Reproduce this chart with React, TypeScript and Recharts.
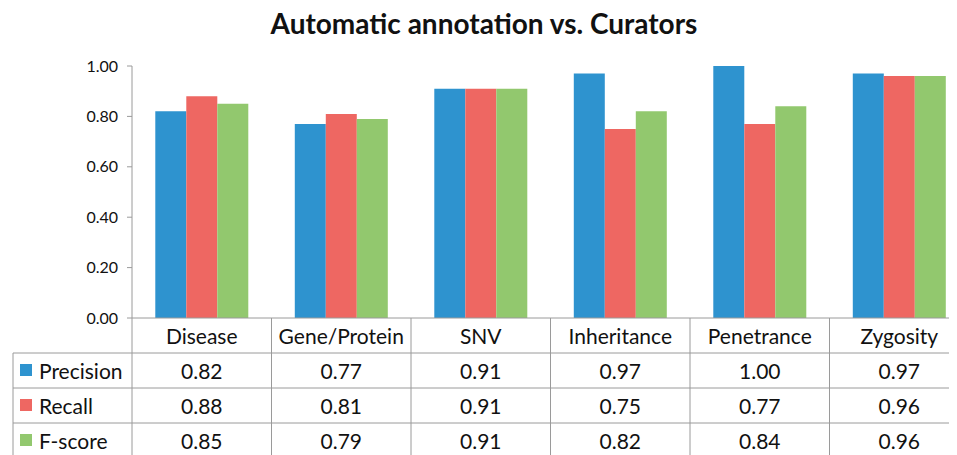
import React from 'react'
import { BarChart, Bar, XAxis, YAxis } from 'recharts'

const categories = ['Disease', 'Gene/Protein', 'SNV', 'Inheritance', 'Penetrance', 'Zygosity']
const precision = [0.82, 0.77, 0.91, 0.97, 1.0, 0.97]
const recall = [0.88, 0.81, 0.91, 0.75, 0.77, 0.96]
const fscore = [0.85, 0.79, 0.91, 0.82, 0.84, 0.96]
const yTicks = [0, 0.2, 0.4, 0.6, 0.8, 1.0]

const series = [
  { key: 'precision', name: 'Precision', color: '#2E93CF', values: precision },
  { key: 'recall', name: 'Recall', color: '#EE6762', values: recall },
  { key: 'fscore', name: 'F-score', color: '#92C86E', values: fscore },
]

const data = categories.map((c, i) => ({
  name: c,
  precision: precision[i],
  recall: recall[i],
  fscore: fscore[i],
}))

const W = 975
const H = 462
const FONT = 'Lato, "Open Sans", sans-serif'
const GRID = '#9a9a9a'
const INK = '#111'

// layout of the data table under the plot
const plotLeft = 132
const plotRight = 969
const plotBottom = 318
const rowH = 35
const headLeft = 13
const band = (plotRight - plotLeft) / categories.length

function TableTick(props: any) {
  const { x, payload, index } = props
  const left = x - band / 2
  const right = x + band / 2
  const rows = [0, 1, 2, 3, 4]
  return (
    <g fontFamily={FONT}>
      {index === 0 && (
        <g>
          <line x1={left} y1={plotBottom} x2={left} y2={H} stroke={GRID} />
          <line x1={headLeft} y1={plotBottom + rowH} x2={headLeft} y2={H} stroke={GRID} />
          {[1, 2, 3, 4].map(r => (
            <line key={r} x1={headLeft} y1={plotBottom + r * rowH} x2={left} y2={plotBottom + r * rowH} stroke={GRID} />
          ))}
          {series.map((s, r) => (
            <g key={s.key}>
              <rect x={20} y={plotBottom + (r + 1) * rowH + 11} width={12} height={12} fill={s.color} />
              <text x={39} y={plotBottom + (r + 1.5) * rowH + 8} fontSize={21} fill={INK}>
                {s.name}
              </text>
            </g>
          ))}
        </g>
      )}
      <line x1={right} y1={plotBottom} x2={right} y2={H} stroke={GRID} />
      {rows.slice(1).map(r => (
        <line key={r} x1={left} y1={plotBottom + r * rowH} x2={right} y2={plotBottom + r * rowH} stroke={GRID} />
      ))}
      <text x={x} y={plotBottom + rowH / 2 + 8} textAnchor="middle" fontSize={21} fill={INK}>
        {payload.value}
      </text>
      {series.map((s, r) => (
        <text key={s.key} x={x} y={plotBottom + (r + 1.5) * rowH + 8} textAnchor="middle" fontSize={21} fill={INK}>
          {s.values[index].toFixed(2)}
        </text>
      ))}
    </g>
  )
}

export default function App() {
  return (
    <div style={{ position: 'relative', marginLeft: -8, marginTop: -8, width: 957, height: 455, overflow: 'hidden', background: '#fff' }}>
      <div
        style={{
          position: 'absolute',
          left: 0,
          width: 968,
          top: 6,
          textAlign: 'center',
          fontFamily: FONT,
          fontWeight: 700,
          fontSize: 28,
          color: '#111',
        }}
      >
        Automatic annotation vs. Curators
      </div>
      <BarChart
        width={W}
        height={H}
        data={data}
        margin={{ top: 66, right: W - plotRight, bottom: 0, left: 0 }}
        barCategoryGap="16.7%"
        barGap={0}
      >
        <YAxis
          domain={[0, 1]}
          ticks={yTicks}
          width={plotLeft}
          tickSize={5}
          tickMargin={9}
          tickFormatter={(v: number) => v.toFixed(2)}
          axisLine={{ stroke: GRID }}
          tickLine={{ stroke: GRID }}
          tick={{ fontFamily: FONT, fontSize: 16, fill: INK }}
        />
        <XAxis
          dataKey="name"
          height={H - plotBottom}
          axisLine={{ stroke: GRID }}
          tickLine={false}
          interval={0}
          tick={<TableTick />}
        />
        {series.map(s => (
          <Bar key={s.key} dataKey={s.key} name={s.name} fill={s.color} isAnimationActive={false} />
        ))}
      </BarChart>
    </div>
  )
}
